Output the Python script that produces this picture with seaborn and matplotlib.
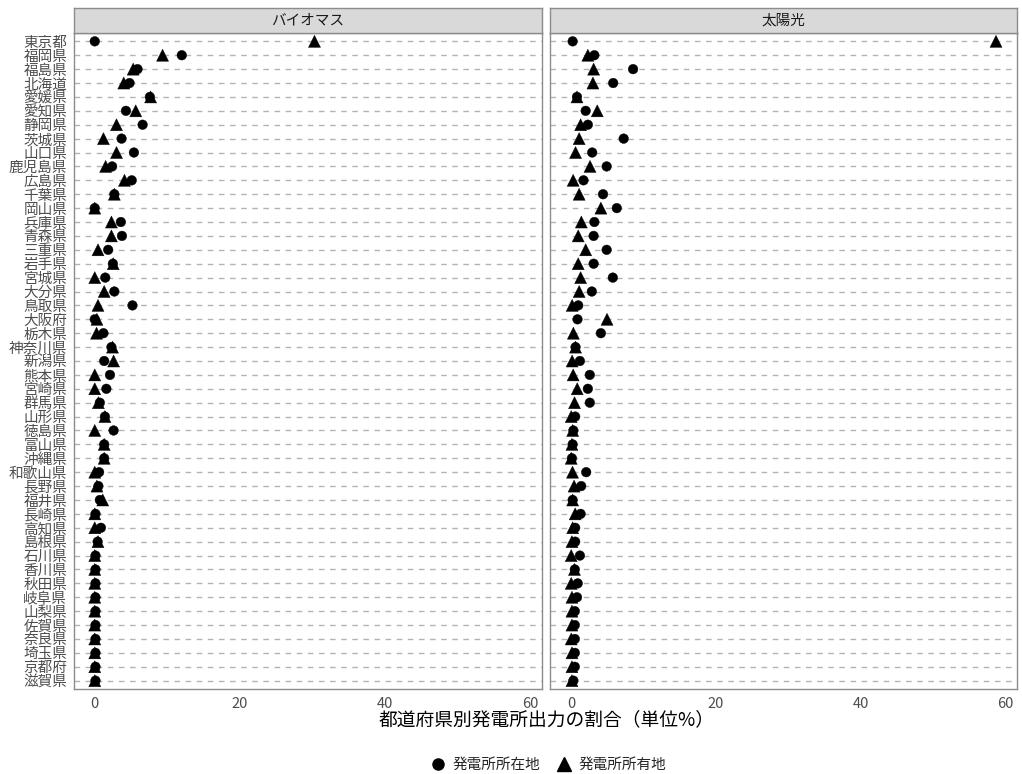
import numpy as np
import pandas as pd
import matplotlib
matplotlib.use("Agg")
import matplotlib.pyplot as plt
from matplotlib.lines import Line2D
import seaborn as sns

# Data: prefectures top to bottom, share of power output (%)
prefs = ["東京都", "福岡県", "福島県", "北海道", "愛媛県", "愛知県", "静岡県", "茨城県",
         "山口県", "鹿児島県", "広島県", "千葉県", "岡山県", "兵庫県", "青森県", "三重県",
         "岩手県", "宮城県", "大分県", "鳥取県", "大阪府", "栃木県", "神奈川県", "新潟県",
         "熊本県", "宮崎県", "群馬県", "山形県", "徳島県", "富山県", "沖縄県", "和歌山県",
         "長野県", "福井県", "長崎県", "高知県", "島根県", "石川県", "香川県", "秋田県",
         "岐阜県", "山梨県", "佐賀県", "奈良県", "埼玉県", "京都府", "滋賀県"]

facets = ["バイオマス", "太陽光"]
kinds = ["発電所所在地", "発電所所有地"]

bio_location = [0.0, 12.0, 5.9, 4.8, 7.6, 4.3, 6.6, 3.7, 5.4, 2.4, 5.1, 2.7, 0.0, 3.6, 3.75,
                1.85, 2.5, 1.45, 2.7, 5.2, 0.0, 1.2, 2.3, 1.3, 2.1, 1.6, 0.7, 1.4, 2.6, 1.3,
                1.3, 0.6, 0.5, 0.7, 0.1, 0.85, 0.4, 0.1, 0.1, 0.1, 0.1, 0.1, 0.1, 0.1, 0.1, 0.1, 0.1]
bio_owner = [30.3, 9.35, 5.3, 4.0, 7.7, 5.65, 3.0, 1.2, 3.0, 1.5, 4.1, 2.7, 0.0, 2.3, 2.3,
             0.45, 2.55, 0.0, 1.3, 0.45, 0.3, 0.25, 2.45, 2.6, 0.0, 0.0, 0.5, 1.4, 0.0, 1.3,
             1.3, 0.0, 0.3, 1.1, 0.0, 0.0, 0.45, 0.0, 0.0, 0.0, 0.0, 0.0, 0.0, 0.0, 0.0, 0.0, 0.0]
pv_location = [0.2, 3.2, 8.55, 5.8, 0.8, 2.0, 2.3, 7.25, 2.9, 4.9, 1.7, 4.4, 6.3, 3.2, 3.1,
               4.9, 3.1, 5.75, 2.85, 0.97, 0.87, 4.1, 0.6, 1.2, 2.57, 2.3, 2.57, 0.55, 0.3, 0.2,
               0.1, 2.07, 1.38, 0.2, 1.3, 0.55, 0.55, 1.2, 0.5, 0.9, 0.8, 0.5, 0.5, 0.5, 0.5, 0.5, 0.3]
pv_owner = [58.7, 2.3, 3.1, 3.0, 0.8, 3.6, 1.3, 1.1, 0.6, 2.6, 0.27, 1.1, 4.1, 1.4, 0.97,
            2.0, 0.97, 1.3, 1.1, 0.13, 4.95, 0.3, 0.6, 0.13, 0.27, 0.83, 0.46, 0.0, 0.2, 0.1,
            0.0, 0.18, 0.4, 0.2, 0.55, 0.2, 0.1, 0.0, 0.45, 0.0, 0.1, 0.1, 0.1, 0.0, 0.1, 0.1, 0.1]

series = {
    ("バイオマス", "発電所所在地"): bio_location,
    ("バイオマス", "発電所所有地"): bio_owner,
    ("太陽光", "発電所所在地"): pv_location,
    ("太陽光", "発電所所有地"): pv_owner,
}
rows = []
for (facet, kind), vals in series.items():
    for p, v in zip(prefs, vals):
        rows.append({"facet": facet, "kind": kind, "pref": p, "value": v})
df = pd.DataFrame(rows)

sns.set_style("white")
plt.rcParams["font.family"] = ["Noto Sans CJK JP", "DejaVu Sans"]

W, H = 1022, 774
fig = plt.figure(figsize=(W / 100, H / 100), dpi=100)

panel_x = [(73.5, 541.5), (550, 1017)]
top, bottom = 33, 689
strip_top = 7.5
txt_col = "#4D4D4D"
border_col = "#8C8C8C"
markers = {"発電所所在地": "o", "発電所所有地": "^"}
sizes = {"発電所所在地": 48, "発電所所有地": 75}

for i, facet in enumerate(facets):
    x0, x1 = panel_x[i]
    ax = fig.add_axes([x0 / W, 1 - bottom / H, (x1 - x0) / W, (bottom - top) / H])
    sub = df[df["facet"] == facet]
    # dashed horizontal grid per category
    for j in range(len(prefs)):
        ax.axhline(j, color="#B3B3B3", linestyle=(0, (4, 4)), linewidth=1.0, zorder=0)
    sns.scatterplot(data=sub, x="value", y="pref", style="kind", markers=markers,
                    style_order=kinds, size="kind", sizes=sizes, size_order=kinds,
                    color="black", edgecolor="black", linewidth=0.3, legend=False,
                    ax=ax, zorder=3)
    ax.set_ylim(len(prefs) - 0.4, -0.6)
    ax.set_xlim(-2.93, 61.6)
    ax.set_xticks([0, 20, 40, 60])
    ax.set_xlabel("")
    ax.set_ylabel("")
    for s in ax.spines.values():
        s.set_color(border_col)
        s.set_linewidth(1.0)
    ax.tick_params(axis="both", colors=border_col, labelcolor=txt_col, length=3.5,
                   width=0.8, labelsize=10.5, direction="out", pad=2)
    if i == 0:
        ax.set_yticks(range(len(prefs)))
        ax.set_yticklabels(prefs, fontsize=10.5, color=txt_col)
        ax.tick_params(axis="y", pad=1)
    else:
        ax.set_yticks(range(len(prefs)))
        ax.set_yticklabels([])
        ax.tick_params(axis="y", length=0)
    # strip
    sax = fig.add_axes([x0 / W, 1 - top / H, (x1 - x0) / W, (top - strip_top) / H])
    sax.set_facecolor("#D9D9D9")
    sax.set_xticks([])
    sax.set_yticks([])
    for s in sax.spines.values():
        s.set_color(border_col)
        s.set_linewidth(1.0)
    sax.text(0.5, 0.5, facet, ha="center", va="center", fontsize=10.5,
             color="#1A1A1A", transform=sax.transAxes)

fig.text(547 / W, 1 - 720 / H, "都道府県別発電所出力の割合（単位%）", ha="center",
         va="center", fontsize=13.5, color="black")

handles = [Line2D([], [], marker=markers[k], color="black", linestyle="",
                  markersize=8 if k == kinds[0] else 9.5)
           for k in kinds]
fig.legend(handles, kinds, loc="center", bbox_to_anchor=(548 / W, 1 - 765 / H),
           ncol=2, frameon=False, fontsize=10.5, handletextpad=0.4, columnspacing=1.0,
           handlelength=1.2)

fig.savefig("out.png", dpi=100)
